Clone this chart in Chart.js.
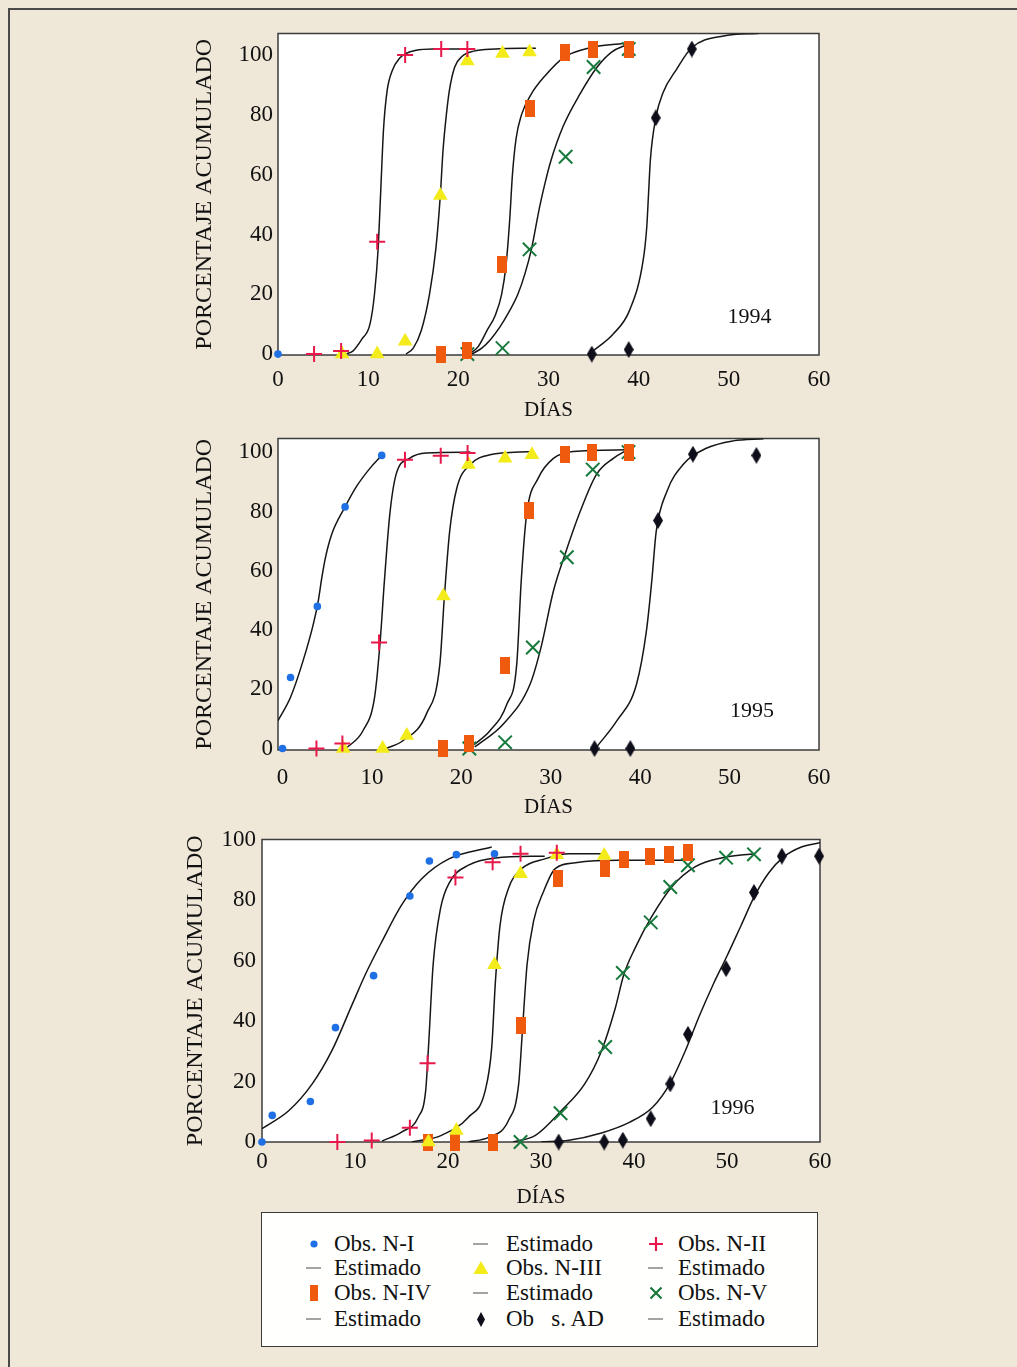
<!DOCTYPE html>
<html lang="es">
<head>
<meta charset="utf-8">
<script src="https://cdn.jsdelivr.net/npm/chart.js@4.4.1/dist/chart.umd.min.js"></script>
<style>
html,body{margin:0;padding:0;}
body{width:1017px;height:1367px;background:#efe7d8;position:relative;overflow:hidden;font-family:"Liberation Serif","Times New Roman",serif;color:#111;}
#frame{position:absolute;left:8px;top:8px;width:1100px;height:1500px;border-left:2px solid #4a4a4a;border-top:2px solid #4a4a4a;}
canvas{position:absolute;}
#legend{position:absolute;left:261px;top:1212px;width:557px;height:135px;border:1.5px solid #3a3a3a;background:#fffffd;box-sizing:border-box;}
.lt{position:absolute;font-size:23px;line-height:24px;white-space:pre;color:#111;}
.lm{position:absolute;width:20px;height:20px;}
</style>
</head>
<body>
<div id="frame"></div>
<canvas id="c1"></canvas>
<canvas id="c2"></canvas>
<canvas id="c3"></canvas>
<div id="legend"></div>
<script>
// ---------- tick labels & texts ----------
const xTicks = [0, 10, 20, 30, 40, 50, 60];
const yTicks = [0, 20, 40, 60, 80, 100];
const years = ['1994', '1995', '1996'];
const yTitle = 'PORCENTAJE ACUMULADO';
const xTitle = 'DÍAS';
const legendLabels = ['Obs. N-I', 'Estimado', 'Obs. N-II', 'Estimado', 'Obs. N-III', 'Estimado',
                      'Obs. N-IV', 'Estimado', 'Obs. N-V', 'Estimado', 'Ob   s. AD', 'Estimado'];

// ---------- 1994 ----------
const obs94_NI   = [[0, 0]];
const obs94_NII  = [[4.0, 0], [7.0, 1], [11.0, 37.6], [14.1, 100], [18.1, 102], [21.0, 102]];
const obs94_NIII = [[7.1, 0], [11.0, 0], [14.1, 4.3], [18.0, 53], [21.0, 98], [24.9, 100.5], [27.9, 101]];
const obs94_NIV  = [[18.1, 0], [21.0, 1.3], [24.8, 30], [27.9, 82], [31.8, 101], [34.9, 102], [38.9, 102]];
const obs94_NV   = [[21.0, 0], [24.9, 2], [27.9, 35], [31.9, 66], [35.0, 96], [38.9, 102]];
const obs94_AD   = [[34.8, 0], [38.9, 1.5], [41.9, 79], [45.9, 102]];
const est94_NII  = [[7.5, 0], [8.3, 1], [9.3, 5], [10.2, 10], [10.7, 20], [11.1, 35], [11.4, 55], [11.7, 75], [12.1, 88], [12.7, 95], [13.5, 99], [14.2, 100.5], [15.2, 101.5], [17.2, 102], [21.7, 102]];
const est94_NIII = [[14.2, 0], [15.0, 2], [15.9, 8], [16.8, 20], [17.5, 35], [18.0, 53], [18.3, 68], [18.6, 78], [19.0, 88], [19.6, 96], [20.4, 99.5], [21.7, 101.3], [24.1, 102], [28.6, 102.3]];
const est94_NIV  = [[21.2, 0], [22.2, 2.5], [23.2, 8], [24.1, 13], [24.8, 20], [25.3, 30], [25.7, 45], [26.0, 60], [26.4, 72], [27.0, 80], [28.1, 87], [29.6, 93], [31.6, 99], [34.6, 102.4], [38.8, 104]];
const est94_NV   = [[21.5, 0], [22.6, 2], [23.6, 5], [24.6, 9], [25.6, 14], [26.6, 20], [27.4, 27], [28.1, 35], [29.0, 49], [29.6, 57], [30.2, 64], [31.6, 76], [33.5, 87], [35.4, 96], [37.0, 101], [38.8, 103.6]];
const est94_AD   = [[34.8, 0.7], [37.2, 6.8], [39.0, 14.7], [40.5, 31.4], [40.9, 42.6], [41.1, 53.8], [41.3, 65], [41.9, 79], [42.7, 87.4], [44.2, 95.2], [45.9, 102.5], [49.4, 106.4], [53.4, 107.3]];

// ---------- 1995 ----------
const obs95_NI   = [[0, 0], [0.9, 24], [3.9, 48], [7.0, 81.6], [11.1, 99]];
const obs95_NII  = [[3.8, 0], [6.7, 1.7], [10.8, 35.8], [13.7, 97.5], [17.7, 98.9], [20.7, 99.8]];
const obs95_NIII = [[6.8, 0], [11.2, 0], [13.9, 4.4], [18.0, 51.5], [20.8, 95.9], [24.9, 98], [27.9, 99.2]];
const obs95_NIV  = [[17.9, 0], [20.9, 1.6], [24.9, 28], [27.6, 80.5], [31.6, 99.2], [34.6, 100.1], [38.7, 100.1]];
const obs95_NV   = [[20.9, 0], [24.9, 2.1], [28.0, 34.1], [31.8, 64.6], [34.7, 94.2], [38.7, 100.1]];
const obs95_AD   = [[34.9, 0], [38.9, 0], [42.0, 77], [45.9, 99.4], [53.0, 99]];
const est95_NI   = [[-0.5, 9.4], [0.9, 17.3], [2.3, 29.6], [3.45, 42], [4.0, 49.8], [4.4, 57.7], [4.8, 64.4], [5.5, 72.3], [7.0, 81.6], [8.3, 88.6], [9.8, 94.7], [11.1, 99]];
const est95_NII  = [[7.1, 0], [9.0, 6], [10.3, 17.3], [10.9, 35.2], [11.4, 56.6], [12.0, 79], [12.7, 92.5], [14.2, 98], [16.1, 99.8], [21.0, 100.1]];
const est95_NIII = [[11.6, 0], [13.5, 2.7], [16.1, 11.7], [17.6, 28.5], [18.1, 51], [18.7, 73.4], [19.5, 88], [21.0, 95.9], [23.2, 99.2], [27.8, 100.3]];
const est95_NIV  = [[21.3, 1], [23.2, 6], [25.1, 15], [26.2, 28.5], [26.7, 56.6], [27.3, 79], [28.6, 91.3], [30.3, 98], [32.5, 100.3], [38.6, 100.9]];
const est95_NV   = [[21.5, 0.5], [24.7, 8.3], [27.7, 21.8], [28.9, 34], [30.3, 53.2], [31.6, 65.6], [33.3, 80.1], [35.1, 92.5], [37.0, 98], [38.6, 100.9]];
const est95_AD   = [[35.1, 0.4], [37.4, 9.4], [39.6, 21.8], [40.7, 39.7], [41.3, 56.6], [41.8, 73.4], [43.0, 86.9], [44.8, 95.9], [47.4, 101.4], [50.4, 103.9], [53.8, 104.6]];

// ---------- 1996 ----------
const obs96_NI   = [[0, 0], [1.1, 8.8], [5.2, 13.4], [7.9, 37.8], [12.0, 55], [15.9, 81.3], [18.0, 92.9], [20.9, 95], [25.0, 95.3]];
const obs96_NII  = [[8.1, 0], [11.8, 0.5], [15.9, 4.7], [17.8, 26], [20.8, 87.4], [24.8, 92.5], [27.8, 95.3], [31.7, 95.6]];
const obs96_NIII = [[17.9, 0], [20.9, 3.8], [25.0, 58.6], [27.8, 88.7], [31.7, 95], [36.8, 94.7]];
const obs96_NIV  = [[17.9, 0], [20.8, 0], [24.8, 0], [27.8, 38.6], [31.8, 87.1], [36.9, 90.3], [38.9, 93.4], [41.7, 94.5], [43.8, 95.1], [45.8, 95.6]];
const obs96_NV   = [[27.8, 0], [32.1, 9.5], [36.9, 31.4], [38.8, 55.9], [41.8, 72.6], [43.9, 84.3], [45.8, 91.5], [49.9, 94], [52.9, 95.1]];
const obs96_AD   = [[31.9, 0], [36.8, 0], [38.8, 0.6], [41.8, 7.7], [43.9, 19.2], [45.8, 35.6], [49.9, 57.3], [52.9, 82.5], [55.9, 94.5], [59.9, 94.5]];
const est96_NI   = [[0, 4.4], [2.9, 10.4], [5.4, 19.2], [7.5, 30.1], [9.7, 45.5], [11.1, 55.3], [12.9, 66.3], [15.0, 78.3], [17.2, 87.1], [20.1, 93.6], [24.7, 97.5]];
const est96_NII  = [[12.9, 0.3], [15.0, 3.3], [16.8, 8.2], [17.6, 17], [17.9, 31.2], [18.4, 58.6], [19.2, 77.2], [20.2, 86], [22.2, 91.5], [25.1, 93.9], [30.4, 94.5]];
const est96_NIII = [[16.1, 0], [19.3, 2.2], [22.2, 8.2], [24.0, 17], [24.7, 31.2], [25.1, 53.1], [25.6, 71.7], [26.5, 83.8], [27.9, 90.3], [30.4, 93.6], [33.0, 95.3], [37.0, 95.3]];
const est96_NIV  = [[22.2, 0], [24.4, 1.6], [26.5, 7.1], [27.6, 19.2], [28.0, 36.7], [28.5, 58.6], [29.2, 73], [30.3, 83], [31.5, 90.3], [33.7, 92.3], [38.3, 93.1], [45.8, 93.1]];
const est96_NV   = [[27.0, 0], [29.4, 2.2], [32.2, 10.4], [34.7, 19.2], [36.5, 30.1], [38.0, 44.4], [38.9, 55.3], [40.1, 64], [41.9, 74.5], [44.1, 84.5], [46.6, 91], [49.4, 93.9], [53.0, 95.3]];
const est96_AD   = [[30.0, 0], [33.0, 0.6], [36.5, 3], [39.5, 6.5], [42.0, 11.5], [43.9, 19.5], [45.5, 30], [47.0, 41.5], [48.5, 52], [50.0, 61.5], [51.5, 71.5], [53.0, 81.5], [54.5, 89], [56.0, 94], [58.0, 97.5], [60, 98.9]];

// ---------- styles ----------
const FONT = "'Liberation Serif', 'Times New Roman', serif";
Chart.defaults.font.family = FONT;
Chart.defaults.color = '#111';

function rectImg(w, h, color) {
  const c = document.createElement('canvas'); c.width = w; c.height = h;
  const g = c.getContext('2d'); g.fillStyle = color; g.fillRect(0, 0, w, h); return c;
}
function diamondImg(w, h, color) {
  const c = document.createElement('canvas'); c.width = w; c.height = h;
  const g = c.getContext('2d'); g.fillStyle = color; g.beginPath();
  g.moveTo(w / 2, 0); g.lineTo(w, h / 2); g.lineTo(w / 2, h); g.lineTo(0, h / 2); g.closePath(); g.fill(); return c;
}
const COL = { NI: '#1f6fe5', NII: '#e8184b', NIII: '#f3ec1a', NIV: '#f05a0e', NV: '#17793b', AD: '#0e0e1a', est: '#161616' };
const MARK = {
  NI:   { pointStyle: 'circle', r: 3.8, bw: 0 },
  NII:  { pointStyle: 'cross', r: 8, bw: 2 },
  NIII: { pointStyle: 'triangle', r: 8.5, bw: 0 },
  NIV:  { pointStyle: rectImg(10, 17, COL.NIV), r: 8, bw: 0 },
  NV:   { pointStyle: 'crossRot', r: 9.5, bw: 2 },
  AD:   { pointStyle: diamondImg(10, 17, COL.AD), r: 8, bw: 0 }
};
const NAMES = { NI: 'N-I', NII: 'N-II', NIII: 'N-III', NIV: 'N-IV', NV: 'N-V', AD: 'AD' };

const toXY = arr => arr.map(p => ({ x: p[0], y: p[1] }));
function obsDS(key, data) {
  const m = MARK[key];
  return { label: 'Obs. ' + NAMES[key], data: toXY(data), showLine: false, order: 0, clip: false,
    pointStyle: m.pointStyle, pointRadius: m.r, pointHoverRadius: m.r,
    pointBorderWidth: m.bw, pointBorderColor: COL[key], pointBackgroundColor: COL[key] };
}
function estDS(data) {
  return { label: 'Estimado', data: toXY(data), showLine: true, order: 1, pointRadius: 0, pointHoverRadius: 0,
    borderColor: COL.est, borderWidth: 1.5, cubicInterpolationMode: 'monotone', fill: false };
}

// ---------- layout (pixel geometry of each panel) ----------
const X_AXIS_H = 70, PAD_R = 32;
const layouts = [
  { id: 'c1', left: 180, top: 17,  plotL: 278, plotR: 819, plotT: 32,  plotB: 355,  xMin: 0,    xMax: 60, yMin: -0.3, yMax: 107.2, yTitlePad: 13, yTickPad: 5, xTickPad: 13, xTitlePad: 4, yearAt: [52.3, 12.4] },
  { id: 'c2', left: 180, top: 422, plotL: 278, plotR: 819, plotT: 437, plotB: 750,  xMin: -0.5, xMax: 60, yMin: -0.5, yMax: 104.7, yTitlePad: 13, yTickPad: 5, xTickPad: 16, xTitlePad: 2, yearAt: [52.5, 12.5] },
  { id: 'c3', left: 165, top: 822, plotL: 262, plotR: 820, plotT: 837, plotB: 1142, xMin: 0,    xMax: 60, yMin: 0,    yMax: 100,   yTitlePad: 19, yTickPad: 6, xTickPad: 8,  xTitlePad: 4, yearAt: [50.6, 11.1] }
];

const panelData = [
  [estDS(est94_NII), estDS(est94_NIII), estDS(est94_NIV), estDS(est94_NV), estDS(est94_AD),
   obsDS('NI', obs94_NI), obsDS('NII', obs94_NII), obsDS('NIII', obs94_NIII), obsDS('NIV', obs94_NIV), obsDS('NV', obs94_NV), obsDS('AD', obs94_AD)],
  [estDS(est95_NI), estDS(est95_NII), estDS(est95_NIII), estDS(est95_NIV), estDS(est95_NV), estDS(est95_AD),
   obsDS('NI', obs95_NI), obsDS('NII', obs95_NII), obsDS('NIII', obs95_NIII), obsDS('NIV', obs95_NIV), obsDS('NV', obs95_NV), obsDS('AD', obs95_AD)],
  [estDS(est96_NI), estDS(est96_NII), estDS(est96_NIII), estDS(est96_NIV), estDS(est96_NV), estDS(est96_AD),
   obsDS('NI', obs96_NI), obsDS('NII', obs96_NII), obsDS('NIII', obs96_NIII), obsDS('NIV', obs96_NIV), obsDS('NV', obs96_NV), obsDS('AD', obs96_AD)]
];

const framePlugin = {
  id: 'frame',
  beforeDraw(chart) {
    const a = chart.chartArea, c = chart.ctx;
    c.save(); c.fillStyle = '#ffffff'; c.fillRect(a.left, a.top, a.right - a.left, a.bottom - a.top); c.restore();
  },
  beforeDatasetsDraw(chart) {
    const a = chart.chartArea, c = chart.ctx;
    c.save(); c.strokeStyle = '#3c3c3c'; c.lineWidth = 1.5;
    c.strokeRect(a.left, a.top, a.right - a.left, a.bottom - a.top); c.restore();
  },
  afterDatasetsDraw(chart, args, opts) {
    const c = chart.ctx;
    const px = chart.scales.x.getPixelForValue(opts.at[0]);
    const py = chart.scales.y.getPixelForValue(opts.at[1]);
    c.save(); c.font = '22px ' + FONT; c.fillStyle = '#111'; c.textAlign = 'center'; c.textBaseline = 'middle';
    c.fillText(opts.text, px, py); c.restore();
  }
};

layouts.forEach((g, i) => {
  const cv = document.getElementById(g.id);
  cv.width = g.plotR + PAD_R - g.left;
  cv.height = g.plotB + X_AXIS_H - g.top;
  cv.style.left = g.left + 'px';
  cv.style.top = g.top + 'px';
  new Chart(cv, {
    type: 'scatter',
    data: { datasets: panelData[i] },
    plugins: [framePlugin],
    options: {
      responsive: false, animation: false, events: [],
      layout: { padding: { left: 0, right: PAD_R, top: g.plotT - g.top, bottom: 0 } },
      plugins: { legend: { display: false }, tooltip: { enabled: false }, frame: { text: years[i], at: g.yearAt } },
      scales: {
        x: {
          type: 'linear', min: g.xMin, max: g.xMax,
          grid: { display: false, drawTicks: false }, border: { display: false },
          afterBuildTicks: s => { s.ticks = xTicks.map(v => ({ value: v })); },
          afterFit: s => { s.height = X_AXIS_H; },
          ticks: { autoSkip: false, maxRotation: 0, padding: g.xTickPad, color: '#111', font: { size: 23, lineHeight: 1 } },
          title: { display: true, text: xTitle, color: '#111', font: { size: 21, lineHeight: 1 }, padding: { top: 0, bottom: g.xTitlePad } }
        },
        y: {
          type: 'linear', min: g.yMin, max: g.yMax,
          grid: { display: false, drawTicks: false }, border: { display: false },
          afterBuildTicks: s => { s.ticks = yTicks.map(v => ({ value: v })); },
          afterFit: s => { s.width = g.plotL - g.left; },
          ticks: { autoSkip: false, padding: g.yTickPad, color: '#111', font: { size: 23, lineHeight: 1 } },
          title: { display: true, text: yTitle, color: '#111', font: { size: 24, lineHeight: 1 }, padding: { top: g.yTitlePad, bottom: 0 } }
        }
      }
    }
  });
});

// ---------- legend box (row-major, 3 columns) ----------
const legendMarks = ['dot', 'line', 'plus', 'line', 'tri', 'line', 'rect', 'line', 'x', 'line', 'diam', 'line'];
const legRowY = [1243, 1267, 1292, 1318];
const legMarkX = [313, 480, 655];
const legTextX = [333, 505, 677];
const svgMark = {
  dot:  `<circle cx="10" cy="10" r="3.6" fill="${COL.NI}"/>`,
  line: `<line x1="2" y1="10" x2="17" y2="10" stroke="#8c8c8c" stroke-width="1.6"/>`,
  plus: `<path d="M10 3V17M3 10H17" stroke="${COL.NII}" stroke-width="2.2" fill="none"/>`,
  tri:  `<polygon points="10,3 17.5,16 2.5,16" fill="${COL.NIII}"/>`,
  rect: `<rect x="6" y="2" width="8" height="16" fill="${COL.NIV}"/>`,
  x:    `<path d="M4.5 4.5L15.5 15.5M15.5 4.5L4.5 15.5" stroke="${COL.NV}" stroke-width="2.2" fill="none"/>`,
  diam: `<polygon points="10,3 14,10.5 10,18 6,10.5" fill="${COL.AD}"/>`
};
const leg = document.getElementById('legend');
const box = { left: 261, top: 1212 };
legendLabels.forEach((txt, k) => {
  const row = Math.floor(k / 3), col = k % 3;
  const cy = legRowY[row] - box.top;
  const m = document.createElement('div');
  m.className = 'lm';
  m.style.left = (legMarkX[col] - box.left - 10) + 'px';
  m.style.top = (cy - 10) + 'px';
  m.innerHTML = `<svg width="20" height="20" viewBox="0 0 20 20">${svgMark[legendMarks[k]]}</svg>`;
  leg.appendChild(m);
  const t = document.createElement('div');
  t.className = 'lt';
  t.textContent = txt;
  t.style.left = (legTextX[col] - box.left) + 'px';
  t.style.top = (cy - 12) + 'px';
  leg.appendChild(t);
});
</script>
</body>
</html>
